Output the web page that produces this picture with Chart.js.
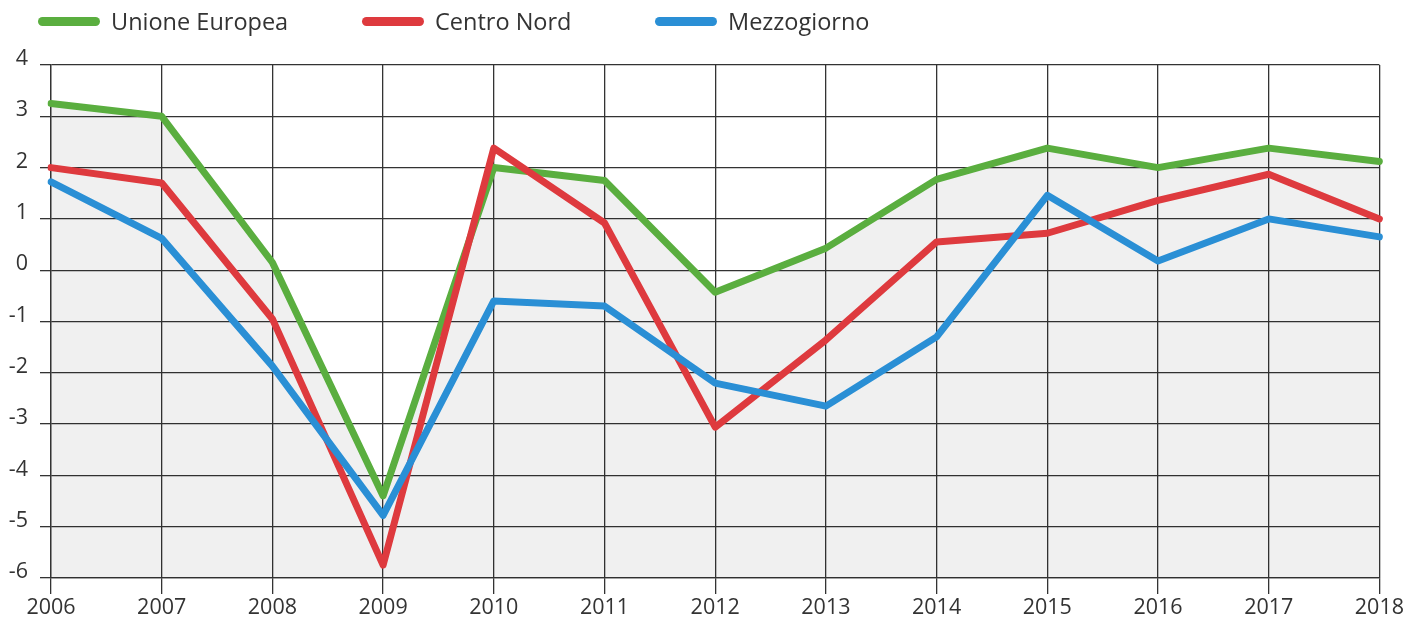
<!DOCTYPE html>
<html>
<head>
<meta charset="utf-8">
<script src="https://cdn.jsdelivr.net/npm/chart.js@4"></script>
<style>
  html, body { margin: 0; padding: 0; background: #fff; }
  #wrap { position: relative; width: 1405px; height: 624px; }
  #legend { position: absolute; top: 5px; left: 38px; font-family: 'Open Sans', sans-serif; font-size: 23.5px; color: #333; }
  #legend .item { position: absolute; top: 0; white-space: nowrap; }
  #legend .swatch { display: inline-block; width: 62px; height: 9px; border-radius: 4.5px; vertical-align: middle; margin-right: 11px; position: relative; top: -2px; }
</style>
</head>
<body>
<div id="wrap">
  <div id="legend"></div>
  <canvas id="chart" width="1405" height="624"></canvas>
</div>
<script>
const years = ['2006', '2007', '2008', '2009', '2010', '2011', '2012', '2013', '2014', '2015', '2016', '2017', '2018'];
const unioneEuropea = [3.25, 3.0, 0.15, -4.4, 2.0, 1.75, -0.43, 0.43, 1.77, 2.38, 2.0, 2.38, 2.12];
const centroNord    = [2.0, 1.7, -0.95, -5.75, 2.38, 0.92, -3.06, -1.36, 0.55, 0.72, 1.36, 1.87, 1.0];
const mezzogiorno   = [1.72, 0.62, -1.87, -4.78, -0.6, -0.7, -2.2, -2.65, -1.3, 1.46, 0.18, 1.0, 0.65];
const yTicks = [-6, -5, -4, -3, -2, -1, 0, 1, 2, 3, 4];

const series = [
  { label: 'Unione Europea', data: unioneEuropea, color: '#5aae3f', left: 0 },
  { label: 'Centro Nord',    data: centroNord,    color: '#de3a3e', left: 324 },
  { label: 'Mezzogiorno',    data: mezzogiorno,   color: '#2a8fd5', left: 617 },
];

const legend = document.getElementById('legend');
for (const s of series) {
  const it = document.createElement('div');
  it.className = 'item';
  it.style.left = s.left + 'px';
  it.innerHTML = `<span class="swatch" style="background:${s.color}"></span>${s.label}`;
  legend.appendChild(it);
}

const font = { family: "'Open Sans', sans-serif", size: 21.5 };
const datasets = series.map((s, i) => ({
  label: s.label,
  data: s.data,
  borderColor: s.color,
  backgroundColor: i === 0 ? 'rgba(0,0,0,0.06)' : 'transparent',
  fill: i === 0 ? 'start' : false,
  borderWidth: 7,
  pointRadius: 0,
  tension: 0,
  borderJoinStyle: 'round',
  borderCapStyle: 'round',
  order: 3 - i,
})).reverse();

new Chart(document.getElementById('chart'), {
  type: 'line',
  data: { labels: years, datasets },
  options: {
    responsive: false,
    animation: false,
    layout: { padding: { top: 65, right: 25, left: 0, bottom: 0 } },
    plugins: { legend: { display: false }, tooltip: { enabled: false } },
    scales: {
      x: {
        offset: false,
        grid: { color: '#333', lineWidth: 1.3, tickLength: 16 },
        border: { color: '#333', width: 1.3 },
        ticks: { color: '#333', font, padding: 1, maxRotation: 0, autoSkip: false },
        afterFit: (sc) => { sc.height = 46; },
      },
      y: {
        min: -6, max: 4,
        afterBuildTicks: (sc) => { sc.ticks = yTicks.map(v => ({ value: v })); },
        grid: { color: '#333', lineWidth: 1.3, tickLength: 11 },
        border: { color: '#333', width: 1.3 },
        ticks: { color: '#333', font, padding: 12, labelOffset: -6 },
        afterFit: (sc) => { sc.width = 51; },
      },
    },
  },
});
</script>
</body>
</html>
